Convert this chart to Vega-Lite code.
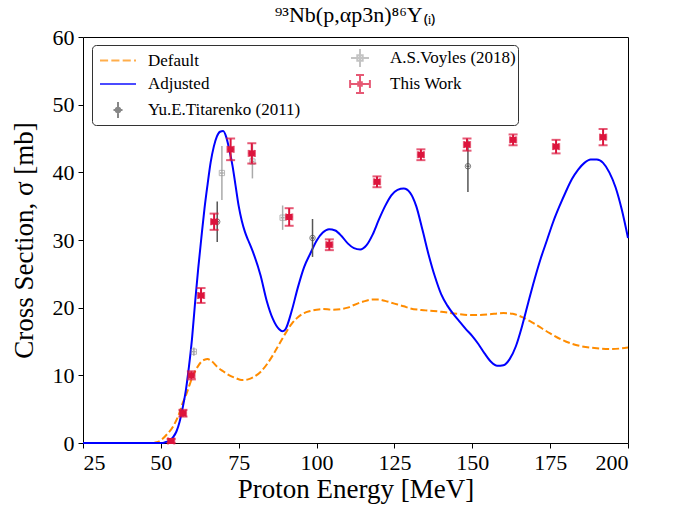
{
  "$schema": "https://vega.github.io/schema/vega-lite/v6.json",
  "autosize": {"type": "none"},
  "width": 545,
  "height": 406,
  "padding": {"left": 83, "top": 37, "right": 45, "bottom": 69},
  "title": {"text": "⁹³Nb(p,αp3n)⁸⁶Y₍ᵢ₎", "font": "Liberation Serif", "fontSize": 22, "fontWeight": "normal", "color": "black", "offset": -1},
  "config": {
    "view": {"stroke": "black", "strokeWidth": 1},
    "font": "Liberation Serif",
    "axis": {"grid": false, "domain": false, "tickColor": "black", "tickSize": 5, "labelFont": "Liberation Serif", "labelFontSize": 22, "labelColor": "black", "titleFont": "Liberation Serif", "titleFontSize": 27, "titleFontWeight": "normal", "titleColor": "black"},
    "legend": {"labelFont": "Liberation Serif", "labelFontSize": 17, "labelColor": "black"}
  },
  "datasets": {
    "default": [
      {"E": 25, "s": 0}, {"E": 45, "s": 0}, {"E": 47, "s": 0}, {"E": 48, "s": 0.05}, {"E": 49, "s": 0.15}, {"E": 50, "s": 0.4},
      {"E": 52, "s": 1.3}, {"E": 54, "s": 2.5}, {"E": 56, "s": 4.5}, {"E": 57, "s": 5.9}, {"E": 58, "s": 7.0}, {"E": 59, "s": 8.3},
      {"E": 60, "s": 9.6}, {"E": 61, "s": 10.6}, {"E": 62, "s": 11.4}, {"E": 63, "s": 12.0}, {"E": 64, "s": 12.3}, {"E": 65, "s": 12.4},
      {"E": 66, "s": 12.2}, {"E": 67, "s": 11.8}, {"E": 68, "s": 11.3}, {"E": 70, "s": 10.6}, {"E": 72, "s": 10.0}, {"E": 74, "s": 9.6},
      {"E": 76, "s": 9.3}, {"E": 78, "s": 9.4}, {"E": 80, "s": 9.8}, {"E": 82, "s": 10.5}, {"E": 84, "s": 11.6}, {"E": 86, "s": 13.0},
      {"E": 88, "s": 14.6}, {"E": 90, "s": 16.2}, {"E": 92, "s": 17.6}, {"E": 94, "s": 18.6}, {"E": 96, "s": 19.2}, {"E": 98, "s": 19.5},
      {"E": 100, "s": 19.7}, {"E": 102, "s": 19.8}, {"E": 105, "s": 19.7}, {"E": 108, "s": 19.8}, {"E": 110, "s": 20.0}, {"E": 112, "s": 20.4},
      {"E": 115, "s": 20.9}, {"E": 118, "s": 21.2}, {"E": 120, "s": 21.2}, {"E": 122, "s": 21.0}, {"E": 125, "s": 20.6}, {"E": 128, "s": 20.2},
      {"E": 130, "s": 19.9}, {"E": 135, "s": 19.6}, {"E": 140, "s": 19.4}, {"E": 145, "s": 19.1}, {"E": 150, "s": 18.9}, {"E": 155, "s": 19.0},
      {"E": 160, "s": 19.2}, {"E": 163, "s": 19.1}, {"E": 166, "s": 18.6}, {"E": 170, "s": 17.6}, {"E": 175, "s": 16.2}, {"E": 180, "s": 15.0},
      {"E": 185, "s": 14.3}, {"E": 190, "s": 14.0}, {"E": 195, "s": 13.9}, {"E": 200, "s": 14.1}
    ],
    "adjusted": [
      {"E": 25, "s": 0}, {"E": 45, "s": 0}, {"E": 50, "s": 0}, {"E": 51, "s": 0.05}, {"E": 52, "s": 0.2}, {"E": 53, "s": 0.4},
      {"E": 54, "s": 0.9}, {"E": 55, "s": 1.7}, {"E": 56, "s": 3.1}, {"E": 57, "s": 5.2}, {"E": 58, "s": 7.7}, {"E": 59, "s": 11.2},
      {"E": 60, "s": 15.4}, {"E": 61, "s": 20.8}, {"E": 62, "s": 25.8}, {"E": 63, "s": 30.3}, {"E": 64, "s": 34.6}, {"E": 65, "s": 38.2},
      {"E": 66, "s": 41.5}, {"E": 67, "s": 43.8}, {"E": 68, "s": 45.3}, {"E": 69, "s": 46.0}, {"E": 70, "s": 46.1}, {"E": 71, "s": 45.2},
      {"E": 72, "s": 43.3}, {"E": 73, "s": 41.0}, {"E": 74, "s": 38.0}, {"E": 75, "s": 35.0}, {"E": 76, "s": 32.8}, {"E": 77, "s": 31.2},
      {"E": 78, "s": 30.0}, {"E": 79, "s": 28.9}, {"E": 80, "s": 27.7}, {"E": 82, "s": 24.8}, {"E": 84, "s": 21.0}, {"E": 86, "s": 18.3}, {"E": 88, "s": 16.8},
      {"E": 89, "s": 16.5}, {"E": 90, "s": 16.8}, {"E": 92, "s": 19.5}, {"E": 94, "s": 23.0}, {"E": 96, "s": 26.0}, {"E": 98, "s": 28.0},
      {"E": 100, "s": 29.9}, {"E": 102, "s": 31.1}, {"E": 104, "s": 31.6}, {"E": 106, "s": 31.4}, {"E": 108, "s": 30.6}, {"E": 110, "s": 29.5},
      {"E": 112, "s": 28.8}, {"E": 114, "s": 28.6}, {"E": 116, "s": 29.2}, {"E": 118, "s": 30.8}, {"E": 120, "s": 33.0}, {"E": 122, "s": 35.0},
      {"E": 124, "s": 36.6}, {"E": 126, "s": 37.4}, {"E": 128, "s": 37.6}, {"E": 130, "s": 37.0}, {"E": 132, "s": 35.0}, {"E": 134, "s": 31.5},
      {"E": 136, "s": 27.8}, {"E": 138, "s": 24.6}, {"E": 140, "s": 22.0}, {"E": 142, "s": 20.3}, {"E": 144, "s": 19.0}, {"E": 146, "s": 17.9},
      {"E": 148, "s": 16.8}, {"E": 150, "s": 15.8}, {"E": 152, "s": 14.6}, {"E": 154, "s": 13.2}, {"E": 156, "s": 12.0}, {"E": 158, "s": 11.4},
      {"E": 160, "s": 11.5}, {"E": 162, "s": 12.4}, {"E": 164, "s": 14.3}, {"E": 166, "s": 17.3}, {"E": 168, "s": 20.8}, {"E": 170, "s": 24.2},
      {"E": 172, "s": 27.3}, {"E": 174, "s": 30.0}, {"E": 176, "s": 32.7}, {"E": 178, "s": 35.0}, {"E": 180, "s": 37.1}, {"E": 182, "s": 39.0},
      {"E": 184, "s": 40.4}, {"E": 186, "s": 41.4}, {"E": 188, "s": 41.9}, {"E": 190, "s": 41.9}, {"E": 192, "s": 41.4}, {"E": 194, "s": 40.0},
      {"E": 196, "s": 37.8}, {"E": 198, "s": 34.5}, {"E": 200, "s": 30.3}
    ],
    "voyles": [
      {"E": 60.6, "s": 13.5, "ylo": 12.9, "yhi": 14.1, "xlo": 60.0, "xhi": 61.2},
      {"E": 69.6, "s": 39.9, "ylo": 35.9, "yhi": 43.9, "xlo": 69.0, "xhi": 70.2},
      {"E": 79.4, "s": 41.6, "ylo": 39.1, "yhi": 44.1, "xlo": 78.8, "xhi": 80.0},
      {"E": 89.1, "s": 33.3, "ylo": 31.5, "yhi": 35.1, "xlo": 88.5, "xhi": 89.7}
    ],
    "titarenko": [
      {"E": 68.1, "s": 32.7, "ylo": 29.7, "yhi": 35.7, "xlo": 67.6, "xhi": 68.6},
      {"E": 98.7, "s": 30.3, "ylo": 27.5, "yhi": 33.1, "xlo": 98.2, "xhi": 99.2},
      {"E": 148.6, "s": 40.9, "ylo": 37.1, "yhi": 44.7, "xlo": 148.1, "xhi": 149.1}
    ],
    "thiswork": [
      {"E": 53.3, "s": 0.3, "ylo": 0.0, "yhi": 0.6, "xlo": 52.3, "xhi": 54.3},
      {"E": 57.1, "s": 4.4, "ylo": 3.9, "yhi": 4.9, "xlo": 56.1, "xhi": 58.1},
      {"E": 59.8, "s": 10.0, "ylo": 9.4, "yhi": 10.6, "xlo": 58.8, "xhi": 60.8},
      {"E": 62.9, "s": 21.8, "ylo": 20.7, "yhi": 22.9, "xlo": 61.9, "xhi": 63.9},
      {"E": 67.1, "s": 32.7, "ylo": 31.5, "yhi": 33.9, "xlo": 66.1, "xhi": 68.1},
      {"E": 72.4, "s": 43.4, "ylo": 41.8, "yhi": 45.0, "xlo": 71.4, "xhi": 73.4},
      {"E": 79.2, "s": 42.8, "ylo": 41.3, "yhi": 44.3, "xlo": 78.2, "xhi": 80.2},
      {"E": 91.2, "s": 33.4, "ylo": 32.1, "yhi": 34.7, "xlo": 90.2, "xhi": 92.2},
      {"E": 104.1, "s": 29.3, "ylo": 28.5, "yhi": 30.1, "xlo": 103.1, "xhi": 105.1},
      {"E": 119.4, "s": 38.6, "ylo": 37.8, "yhi": 39.4, "xlo": 118.4, "xhi": 120.4},
      {"E": 133.5, "s": 42.6, "ylo": 41.8, "yhi": 43.4, "xlo": 132.5, "xhi": 134.5},
      {"E": 148.3, "s": 44.1, "ylo": 43.2, "yhi": 45.0, "xlo": 147.3, "xhi": 149.3},
      {"E": 163.1, "s": 44.8, "ylo": 44.0, "yhi": 45.6, "xlo": 162.1, "xhi": 164.1},
      {"E": 176.9, "s": 43.8, "ylo": 42.8, "yhi": 44.8, "xlo": 175.9, "xhi": 177.9},
      {"E": 192.0, "s": 45.2, "ylo": 44.0, "yhi": 46.4, "xlo": 191.0, "xhi": 193.0}
    ],
    "legend": [
      {"series": "Default", "E": -100, "s": -100},
      {"series": "Adjusted", "E": -100, "s": -100},
      {"series": "Yu.E.Titarenko (2011)", "E": -100, "s": -100},
      {"series": "A.S.Voyles (2018)", "E": -100, "s": -100},
      {"series": "This Work", "E": -100, "s": -100}
    ]
  },
  "encoding": {
    "x": {"field": "E", "type": "quantitative", "scale": {"domain": [25, 200], "nice": false, "zero": false}, "axis": {"values": [25, 50, 75, 100, 125, 150, 175, 200], "title": "Proton Energy [MeV]", "titlePadding": 3, "labelPadding": 4, "labelFont": "Liberation Serif", "titleFont": "Liberation Serif"}},
    "y": {"field": "s", "type": "quantitative", "scale": {"domain": [0, 60], "nice": false}, "axis": {"values": [0, 10, 20, 30, 40, 50, 60], "title": "Cross Section, σ [mb]", "titlePadding": 14, "labelPadding": 4, "labelFont": "Liberation Serif", "titleFont": "Liberation Serif"}}
  },
  "layer": [
    {"data": {"name": "default"}, "mark": {"type": "line", "color": "#ff8c00", "strokeWidth": 2, "strokeDash": [7, 3], "interpolate": "monotone"}},
    {"data": {"name": "adjusted"}, "mark": {"type": "line", "color": "#0000ff", "strokeWidth": 2, "interpolate": "monotone"}},
    {"data": {"name": "voyles"}, "mark": {"type": "rule", "color": "#aaaaaa", "strokeWidth": 1.5}, "encoding": {"y": {"field": "ylo", "type": "quantitative"}, "y2": {"field": "yhi"}}},
    {"data": {"name": "voyles"}, "mark": {"type": "rule", "color": "#aaaaaa", "strokeWidth": 1.5}, "encoding": {"x": {"field": "xlo", "type": "quantitative"}, "x2": {"field": "xhi"}}},
    {"data": {"name": "voyles"}, "mark": {"type": "point", "shape": "square", "filled": false, "color": "#999999", "size": 28, "strokeWidth": 1}},
    {"data": {"name": "titarenko"}, "mark": {"type": "rule", "color": "#555555", "strokeWidth": 1.5}, "encoding": {"y": {"field": "ylo", "type": "quantitative"}, "y2": {"field": "yhi"}}},
    {"data": {"name": "titarenko"}, "mark": {"type": "rule", "color": "#555555", "strokeWidth": 1.5}, "encoding": {"x": {"field": "xlo", "type": "quantitative"}, "x2": {"field": "xhi"}}},
    {"data": {"name": "titarenko"}, "mark": {"type": "point", "shape": "circle", "filled": false, "color": "#444444", "size": 30, "strokeWidth": 1}},
    {"data": {"name": "thiswork"}, "mark": {"type": "rule", "color": "#dc143c", "strokeWidth": 2}, "encoding": {"y": {"field": "ylo", "type": "quantitative"}, "y2": {"field": "yhi"}}},
    {"data": {"name": "thiswork"}, "mark": {"type": "rule", "color": "#dc143c", "strokeWidth": 2}, "encoding": {"x": {"field": "xlo", "type": "quantitative"}, "x2": {"field": "xhi"}}},
    {"data": {"name": "thiswork"}, "transform": [{"fold": ["ylo", "yhi"], "as": ["k", "yc"]}], "mark": {"type": "tick", "orient": "horizontal", "color": "#dc143c", "size": 9, "thickness": 2}, "encoding": {"y": {"field": "yc", "type": "quantitative"}}},
    {"data": {"name": "thiswork"}, "transform": [{"fold": ["xlo", "xhi"], "as": ["k", "xc"]}], "mark": {"type": "tick", "orient": "vertical", "color": "#dc143c", "size": 7, "thickness": 2}, "encoding": {"x": {"field": "xc", "type": "quantitative"}}},
    {"data": {"name": "thiswork"}, "mark": {"type": "point", "shape": "square", "filled": true, "color": "#dc143c", "size": 36, "opacity": 1}},
    {"data": {"name": "legend"}, "mark": {"type": "point", "filled": false, "clip": true, "strokeWidth": 2},
     "encoding": {
       "color": {"field": "series", "type": "nominal", "scale": {"domain": ["Default", "Adjusted", "Yu.E.Titarenko (2011)", "A.S.Voyles (2018)", "This Work"], "range": ["#ff8c00", "#0000ff", "#555555", "#aaaaaa", "#dc143c"]},
         "legend": {"title": null, "orient": "none", "legendX": 9, "legendY": 8, "columns": 2, "direction": "vertical", "symbolSize": 400, "symbolStrokeWidth": 2, "labelOffset": 32, "columnPadding": 35, "rowPadding": 0, "padding": 2, "strokeColor": "#333333", "fillColor": "white", "cornerRadius": 4, "labelFontSize": 17, "labelFont": "Liberation Serif", "labelColor": "black"}},
       "shape": {"field": "series", "type": "nominal", "scale": {"domain": ["Default", "Adjusted", "Yu.E.Titarenko (2011)", "A.S.Voyles (2018)", "This Work"], "range": [
         "M-0.5,0H0.31M0.634,0H1.444M1.768,0H2.578M2.902,0H3.1",
         "M-0.5,0H3.1",
         "M1.3,-0.81V0.81M0.85,0H1.75M1.52,0A0.22,0.22,0,1,1,1.08,0A0.22,0.22,0,1,1,1.52,0",
         "M1.3,-0.9V0.9M0.4,0H2.2M1.03,-0.27H1.57V0.27H1.03Z",
         "M0.31,0H2.29M0.31,-0.4V0.4M2.29,-0.4V0.4M1.3,-0.9V0.9M0.9,-0.9H1.7M0.9,0.9H1.7M1.12,-0.18H1.48V0.18H1.12Z"
       ]}, "legend": null}
     }}
  ]
}
